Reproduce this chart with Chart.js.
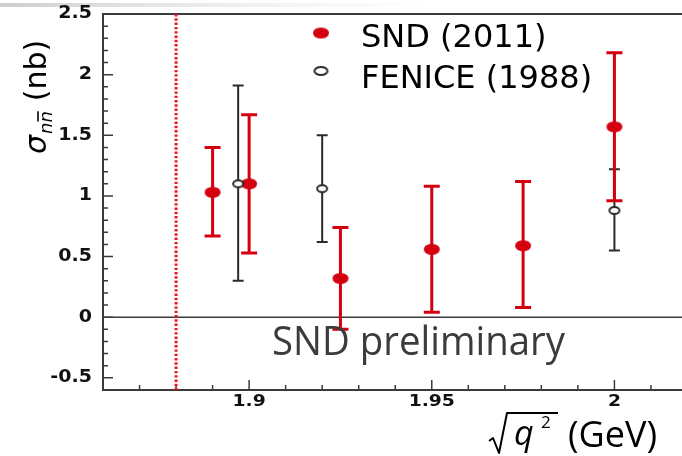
<!DOCTYPE html>
<html>
<head>
<meta charset="utf-8">
<script src="https://cdn.jsdelivr.net/npm/chart.js@4"></script>
<style>
  html, body { margin: 0; padding: 0; background: #fff; }
  canvas { display: block; }
</style>
</head>
<body>
<canvas id="xsecChart" width="682" height="456"></canvas>
<script>
// SND (2011) points with asymmetric error bars
const sndX = [1.89, 1.90, 1.925, 1.95, 1.975, 2.0];
const sndY = [1.03, 1.10, 0.32, 0.56, 0.59, 1.57];
const sndHi = [1.40, 1.67, 0.74, 1.08, 1.12, 2.18];
const sndLo = [0.67, 0.53, -0.10, 0.04, 0.08, 0.96];

// FENICE (1988) points
const feniceX = [1.897, 1.92, 2.0];
const feniceY = [1.10, 1.06, 0.88];
const feniceHi = [1.91, 1.50, 1.22];
const feniceLo = [0.30, 0.62, 0.55];

// axis ticks
const xTicks = [1.9, 1.95, 2.0];
const xTickLabels = ['1.9', '1.95', '2'];
const yTicks = [-0.5, 0, 0.5, 1, 1.5, 2, 2.5];
const yTickLabels = ['-0.5', '0', '0.5', '1', '1.5', '2', '2.5'];
const thresholdX = 1.88;

const RED = 'rgb(212,0,16)';
const DARK = '#2b2b2b';

// elliptic markers (the original figure is slightly stretched sideways)
const makeMarker = (w, h, fill, stroke, lw) => {
    const c = document.createElement('canvas');
    c.width = w + 4; c.height = h + 4;
    const g = c.getContext('2d');
    g.beginPath();
    g.ellipse(c.width / 2, c.height / 2, w / 2, h / 2, 0, 0, Math.PI * 2);
    g.fillStyle = fill;
    g.fill();
    if (stroke) { g.lineWidth = lw; g.strokeStyle = stroke; g.stroke(); }
    return c;
};
const redDot = makeMarker(16, 11, RED, null, 0);
const openDot = makeMarker(10, 7, '#fff', DARK, 2);

const toPoints = (xs, ys) => xs.map((x, i) => ({ x: x, y: ys[i] }));

const drawBars = (ctx, xs, lo, hi, sx, sy, color, lw, cap) => {
    ctx.save();
    ctx.strokeStyle = color;
    ctx.lineWidth = lw;
    xs.forEach((x, i) => {
        const px = sx.getPixelForValue(x);
        const top = sy.getPixelForValue(hi[i]);
        const bot = sy.getPixelForValue(lo[i]);
        ctx.beginPath();
        ctx.moveTo(px, top); ctx.lineTo(px, bot);
        ctx.moveTo(px - cap / 2, top); ctx.lineTo(px + cap / 2, top);
        ctx.moveTo(px - cap / 2, bot); ctx.lineTo(px + cap / 2, bot);
        ctx.stroke();
    });
    ctx.restore();
};

// stretched bold labels like the original ROOT figure
const stretchText = (ctx, text, x, y, align, sxf) => {
    ctx.save();
    ctx.translate(x, y);
    ctx.scale(sxf, 1);
    ctx.textAlign = align;
    ctx.fillText(text, 0, 0);
    ctx.restore();
};

const framePlugin = {
    id: 'frame',
    beforeDatasetsDraw(chart) {
        const { ctx, chartArea: a, scales: { x, y } } = chart;
        ctx.save();
        // slide shadow at very top
        const grad = ctx.createLinearGradient(0, 0, 440, 0);
        grad.addColorStop(0, 'rgba(200,200,200,0.9)');
        grad.addColorStop(1, 'rgba(230,230,230,0)');
        ctx.fillStyle = grad;
        ctx.fillRect(0, 3, 440, 4);

        // frame
        ctx.strokeStyle = '#3a3a3a';
        ctx.lineWidth = 2;
        ctx.beginPath();
        ctx.moveTo(682, a.top); ctx.lineTo(a.left, a.top);
        ctx.lineTo(a.left, a.bottom); ctx.lineTo(682, a.bottom);
        ctx.stroke();

        // zero line
        ctx.lineWidth = 1.5;
        ctx.beginPath();
        ctx.moveTo(a.left, y.getPixelForValue(0));
        ctx.lineTo(682, y.getPixelForValue(0));
        ctx.stroke();

        // inward ticks
        ctx.lineWidth = 1.5;
        ctx.beginPath();
        for (let v = -6; v <= 25; v++) {
            const py = y.getPixelForValue(v / 10);
            const len = v % 5 === 0 ? 10 : 5;
            ctx.moveTo(a.left, py); ctx.lineTo(a.left + len, py);
        }
        for (let v = 187; v <= 201; v++) {
            const px = x.getPixelForValue(v / 100);
            const len = v % 5 === 0 ? 10 : 5;
            ctx.moveTo(px, a.bottom); ctx.lineTo(px, a.bottom - len);
        }
        ctx.stroke();

        // tick labels
        ctx.fillStyle = '#111';
        ctx.font = 'bold 17px "DejaVu Sans"';
        ctx.textBaseline = 'middle';
        yTicks.forEach((v, i) => {
            stretchText(ctx, yTickLabels[i], 92, y.getPixelForValue(v), 'right', 1.12);
        });
        ctx.font = 'bold 15px "DejaVu Sans"';
        xTicks.forEach((v, i) => {
            stretchText(ctx, xTickLabels[i], x.getPixelForValue(v), 402, 'center', 1.25);
        });

        // threshold line
        ctx.strokeStyle = 'rgb(235,20,40)';
        ctx.lineWidth = 3;
        ctx.setLineDash([2.4, 1.9]);
        const tx = x.getPixelForValue(thresholdX);
        ctx.beginPath();
        ctx.moveTo(tx, a.top); ctx.lineTo(tx, a.bottom);
        ctx.stroke();
        ctx.setLineDash([]);
        ctx.restore();

        // error bars: FENICE first, SND on top
        drawBars(ctx, feniceX, feniceLo, feniceHi, x, y, DARK, 2, 11);
        drawBars(ctx, sndX, sndLo, sndHi, x, y, RED, 3, 16);
    },
    afterDraw(chart) {
        const { ctx } = chart;
        ctx.save();
        ctx.fillStyle = '#000';
        ctx.textBaseline = 'alphabetic';

        // legend
        ctx.drawImage(redDot, 321 - redDot.width / 2, 33 - redDot.height / 2);
        ctx.drawImage(makeMarker(13, 8, '#fff', DARK, 2), 321 - 8.5, 71 - 6);
        ctx.font = '32px "DejaVu Sans"';
        ctx.fillText('SND (2011)', 361, 47);
        ctx.fillText('FENICE (1988)', 361, 88);

        // watermark text
        ctx.fillStyle = '#3b3b3b';
        ctx.font = '41px "Open Sans"';
        const w = ctx.measureText('SND preliminary').width;
        ctx.save();
        ctx.translate(272, 355);
        ctx.scale(293 / w, 1);
        ctx.fillText('SND preliminary', 0, 0);
        ctx.restore();

        // y title: sigma_{n nbar} (nb)
        ctx.fillStyle = '#000';
        ctx.save();
        ctx.translate(46, 154);
        ctx.rotate(-Math.PI / 2);
        ctx.font = 'italic 30px "DejaVu Sans"';
        ctx.fillText('σ', 0, 0);
        let cx = ctx.measureText('σ').width + 1;
        ctx.font = 'italic 18px "DejaVu Sans"';
        ctx.fillText('n', cx, 6);
        const nw = ctx.measureText('n').width;
        ctx.fillText('n', cx + nw, 6);
        ctx.lineWidth = 1.6;
        ctx.beginPath();
        ctx.moveTo(cx + nw + 1, -8); ctx.lineTo(cx + 2 * nw, -8);
        ctx.stroke();
        cx += 2 * nw + 10;
        ctx.font = '30px "DejaVu Sans"';
        ctx.fillText('(nb)', cx, 0);
        ctx.restore();

        // x title: sqrt(q^2) (GeV)
        ctx.lineWidth = 2;
        ctx.strokeStyle = '#000';
        ctx.lineJoin = 'round';
        ctx.beginPath();
        ctx.moveTo(489, 441); ctx.lineTo(493, 438); ctx.lineTo(499, 453);
        ctx.lineTo(507, 413); ctx.lineTo(558, 413);
        ctx.stroke();
        ctx.font = 'italic 34px "Open Sans"';
        ctx.fillText('q', 514, 445);
        ctx.font = '17px "Open Sans"';
        ctx.fillText('2', 541, 428);
        ctx.font = '36px "Open Sans"';
        ctx.fillText('(GeV)', 568, 447);
        ctx.restore();
    }
};

let xsecChart;

const initChart = () => {
    const ctx = document.getElementById('xsecChart').getContext('2d');
    xsecChart = new Chart(ctx, {
        type: 'scatter',
        data: {
            datasets: [{
                label: 'FENICE (1988)',
                data: toPoints(feniceX, feniceY),
                pointStyle: openDot,
                pointRadius: 6
            }, {
                label: 'SND (2011)',
                data: toPoints(sndX, sndY),
                pointStyle: redDot,
                pointRadius: 8
            }]
        },
        options: {
            responsive: false,
            animation: false,
            layout: { autoPadding: false, padding: { top: 14, left: 0, right: 0, bottom: 0 } },
            plugins: { legend: { display: false }, tooltip: { enabled: false } },
            scales: {
                x: {
                    type: 'linear',
                    min: 1.86,
                    max: 2.0185,
                    grid: { display: false },
                    border: { display: false },
                    ticks: { display: false },
                    afterFit: (s) => { s.height = 66; }
                },
                y: {
                    min: -0.6,
                    max: 2.5,
                    grid: { display: false },
                    border: { display: false },
                    ticks: { display: false },
                    afterFit: (s) => { s.width = 103; }
                }
            }
        },
        plugins: [framePlugin]
    });
};

document.addEventListener('DOMContentLoaded', initChart);
</script>
</body>
</html>
